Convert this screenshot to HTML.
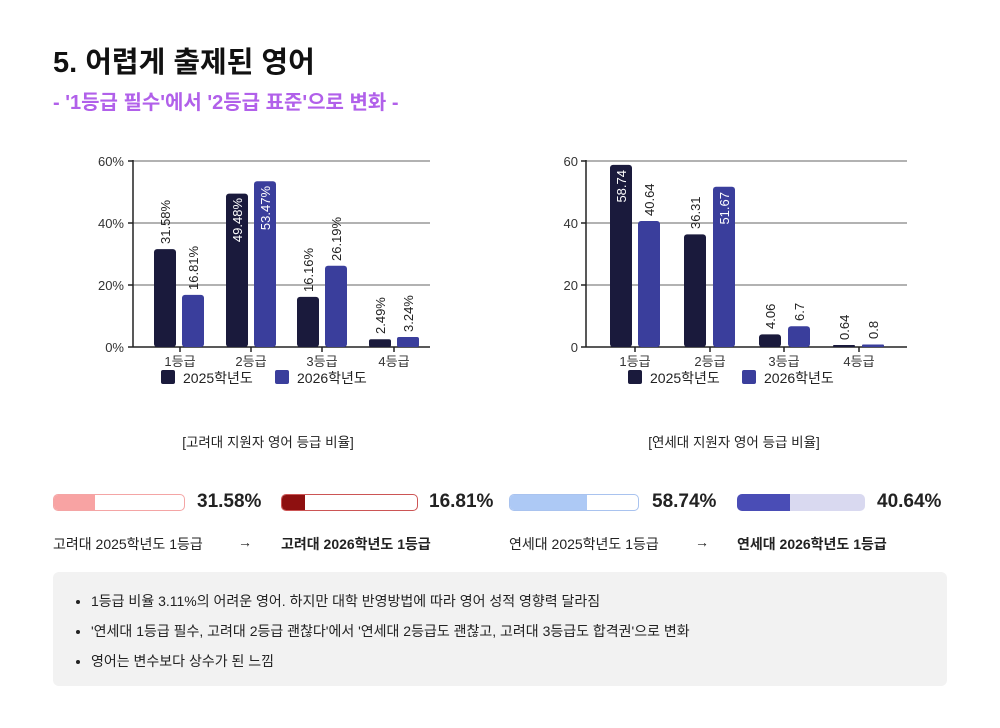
<!DOCTYPE html>
<html><head><meta charset="utf-8"><style>
body{margin:0;width:1000px;height:728px;background:#fff;position:relative;font-family:"Liberation Sans","Noto Sans CJK KR",sans-serif;color:#222;overflow:hidden}
.a{position:absolute;white-space:nowrap}
.bar{position:absolute;height:17px;border-radius:5px;box-sizing:border-box;overflow:hidden}
.bar div{height:100%}
.pct{position:absolute;font-size:19px;font-weight:bold;top:491px}
.lb{position:absolute;font-size:14px;top:534px}
ul{margin:0;padding:0 0 0 38px}
li{font-size:14px;line-height:30px}
</style></head><body>
<div class="a" style="left:53px;top:39px;font-size:29px;font-weight:bold;color:#111">5. 어렵게 출제된 영어</div>
<div class="a" style="left:53px;top:86px;font-size:20px;font-weight:bold;color:#b160ea">- '1등급 필수'에서 '2등급 표준'으로 변화 -</div>

<svg class="a" style="left:0;top:0" width="1000" height="460" font-family="Liberation Sans, Noto Sans CJK KR, sans-serif" font-size="13">
<g stroke="#666" stroke-width="1">
<line x1="133" y1="161" x2="430" y2="161"/><line x1="133" y1="223" x2="430" y2="223"/><line x1="133" y1="285" x2="430" y2="285"/>
<line x1="586" y1="161" x2="907" y2="161"/><line x1="586" y1="223" x2="907" y2="223"/><line x1="586" y1="285" x2="907" y2="285"/>
</g>
<g stroke="#222" stroke-width="1.5">
<line x1="133" y1="160" x2="133" y2="347"/><line x1="133" y1="347" x2="430" y2="347"/>
<line x1="586" y1="160" x2="586" y2="347"/><line x1="586" y1="347" x2="907" y2="347"/>
<line x1="128" y1="161" x2="133" y2="161"/><line x1="128" y1="223" x2="133" y2="223"/><line x1="128" y1="285" x2="133" y2="285"/><line x1="128" y1="347" x2="133" y2="347"/>
<line x1="581" y1="161" x2="586" y2="161"/><line x1="581" y1="223" x2="586" y2="223"/><line x1="581" y1="285" x2="586" y2="285"/><line x1="581" y1="347" x2="586" y2="347"/>
<line x1="180" y1="347" x2="180" y2="352"/><line x1="251" y1="347" x2="251" y2="352"/><line x1="322" y1="347" x2="322" y2="352"/><line x1="394" y1="347" x2="394" y2="352"/>
<line x1="635" y1="347" x2="635" y2="352"/><line x1="710" y1="347" x2="710" y2="352"/><line x1="784" y1="347" x2="784" y2="352"/><line x1="859" y1="347" x2="859" y2="352"/>
</g>
<g text-anchor="end" fill="#333">
<text x="124" y="166">60%</text><text x="124" y="228">40%</text><text x="124" y="290">20%</text><text x="124" y="352">0%</text>
<text x="578" y="166">60</text><text x="578" y="228">40</text><text x="578" y="290">20</text><text x="578" y="352">0</text>
</g>
<g text-anchor="middle" fill="#333">
<text x="180" y="366">1등급</text><text x="251" y="366">2등급</text><text x="322" y="366">3등급</text><text x="394" y="366">4등급</text>
<text x="635" y="366">1등급</text><text x="710" y="366">2등급</text><text x="784" y="366">3등급</text><text x="859" y="366">4등급</text>
</g>
<g fill="#1a1a3c">
<rect x="154" y="249.1" width="22" height="97.9" rx="3"/><rect x="226" y="193.6" width="22" height="153.4" rx="3"/><rect x="297" y="296.9" width="22" height="50.1" rx="3"/><rect x="369" y="339.3" width="22" height="7.7" rx="2"/>
<rect x="610" y="164.9" width="22" height="182.1" rx="3"/><rect x="684" y="234.4" width="22" height="112.6" rx="3"/><rect x="759" y="334.4" width="22" height="12.6" rx="3"/><rect x="833" y="345" width="22" height="2" rx="1"/>
<rect x="161" y="370" width="14" height="14" rx="2"/><rect x="628" y="370" width="14" height="14" rx="2"/>
</g>
<g fill="#3a3e9c">
<rect x="182" y="294.9" width="22" height="52.1" rx="3"/><rect x="254" y="181.2" width="22" height="165.8" rx="3"/><rect x="325" y="265.8" width="22" height="81.2" rx="3"/><rect x="397" y="337" width="22" height="10" rx="2"/>
<rect x="638" y="221" width="22" height="126" rx="3"/><rect x="713" y="186.8" width="22" height="160.2" rx="3"/><rect x="788" y="326.2" width="22" height="20.8" rx="3"/><rect x="862" y="344.5" width="22" height="2.5" rx="1"/>
<rect x="275" y="370" width="14" height="14" rx="2"/><rect x="742" y="370" width="14" height="14" rx="2"/>
</g>
<g fill="#222" font-size="14">
<text x="183" y="383">2025학년도</text><text x="297" y="383">2026학년도</text>
<text x="650" y="383">2025학년도</text><text x="764" y="383">2026학년도</text>
</g>
<g fill="#222">
<text transform="translate(170,244) rotate(-90)">31.58%</text>
<text transform="translate(198,290) rotate(-90)">16.81%</text>
<text transform="translate(313,292) rotate(-90)">16.16%</text>
<text transform="translate(341,261) rotate(-90)">26.19%</text>
<text transform="translate(385,334) rotate(-90)">2.49%</text>
<text transform="translate(413,332) rotate(-90)">3.24%</text>
<text transform="translate(654,216) rotate(-90)">40.64</text>
<text transform="translate(700,229) rotate(-90)">36.31</text>
<text transform="translate(775,329) rotate(-90)">4.06</text>
<text transform="translate(804,321) rotate(-90)">6.7</text>
<text transform="translate(849,340) rotate(-90)">0.64</text>
<text transform="translate(878,339) rotate(-90)">0.8</text>
</g>
<g fill="#fff" text-anchor="end">
<text transform="translate(242,198) rotate(-90)">49.48%</text>
<text transform="translate(270,186) rotate(-90)">53.47%</text>
<text transform="translate(626,170) rotate(-90)">58.74</text>
<text transform="translate(729,192) rotate(-90)">51.67</text>
</g>
<g font-size="13.5" fill="#222" text-anchor="middle">
<text x="268" y="447">[고려대 지원자 영어 등급 비율]</text>
<text x="734" y="447">[연세대 지원자 영어 등급 비율]</text>
</g>
</svg>

<div class="bar" style="left:53px;top:494px;width:132px;border:1px solid #f4a5a5;background:#fff"><div style="width:41px;background:#f8a3a3"></div></div>
<div class="pct" style="left:197px">31.58%</div>
<div class="bar" style="left:281px;top:494px;width:137px;border:1px solid #c55;background:#fff"><div style="width:23px;background:#8e1010"></div></div>
<div class="pct" style="left:429px">16.81%</div>
<div class="bar" style="left:509px;top:494px;width:130px;border:1px solid #a9c3ef;background:#fff"><div style="width:77px;background:#adc9f5"></div></div>
<div class="pct" style="left:652px">58.74%</div>
<div class="bar" style="left:737px;top:494px;width:128px;background:#d9d9f0"><div style="width:53px;background:#4a4db6"></div></div>
<div class="pct" style="left:877px">40.64%</div>

<div class="lb" style="left:53px">고려대 2025학년도 1등급</div>
<div class="lb" style="left:238px">→</div>
<div class="lb" style="left:281px;font-weight:bold">고려대 2026학년도 1등급</div>
<div class="lb" style="left:509px">연세대 2025학년도 1등급</div>
<div class="lb" style="left:695px">→</div>
<div class="lb" style="left:737px;font-weight:bold">연세대 2026학년도 1등급</div>

<div class="a" style="left:53px;top:572px;width:894px;height:114px;background:#f2f2f2;border-radius:6px;padding-top:14px;box-sizing:border-box">
<ul>
<li>1등급 비율 3.11%의 어려운 영어. 하지만 대학 반영방법에 따라 영어 성적 영향력 달라짐</li>
<li>'연세대 1등급 필수, 고려대 2등급 괜찮다'에서 '연세대 2등급도 괜찮고, 고려대 3등급도 합격권'으로 변화</li>
<li>영어는 변수보다 상수가 된 느낌</li>
</ul>
</div>
</body></html>
